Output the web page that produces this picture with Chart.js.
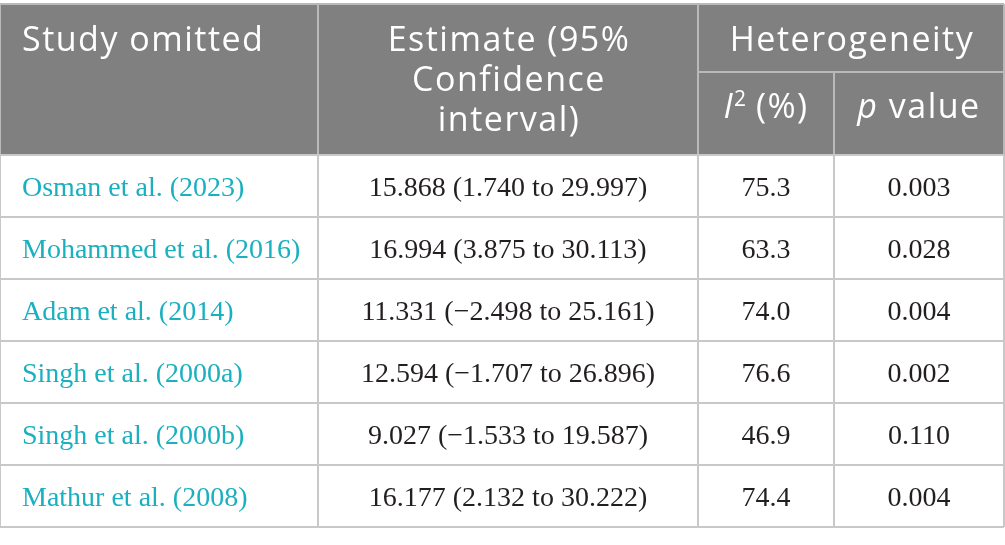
<!DOCTYPE html>
<html>
<head>
<meta charset="utf-8">
<script src="https://cdn.jsdelivr.net/npm/chart.js@4.4.1/dist/chart.umd.min.js"></script>
<style>
    html, body { margin: 0; padding: 0; background: #ffffff; }
    #wrap { width: 1005px; height: 545px; position: relative; }
</style>
</head>
<body>
<div id="wrap"><canvas id="sensChart"></canvas></div>
<script>
// Leave-one-out sensitivity analysis
const studies = ['Osman et al. (2023)', 'Mohammed et al. (2016)', 'Adam et al. (2014)',
    'Singh et al. (2000a)', 'Singh et al. (2000b)', 'Mathur et al. (2008)'];
const estimates = [15.868, 16.994, 11.331, 12.594, 9.027, 16.177];
const ciLower = [1.740, 3.875, -2.498, -1.707, -1.533, 2.132];
const ciUpper = [29.997, 30.113, 25.161, 26.896, 19.587, 30.222];
const i2Values = [75.3, 63.3, 74.0, 76.6, 46.9, 74.4];
const pValues = [0.003, 0.028, 0.004, 0.002, 0.110, 0.004];
const headerStudy = 'Study omitted';
const headerEstimate = ['Estimate (95%', 'Confidence', 'interval)'];
const headerHetero = 'Heterogeneity';

// layout (x scale runs in pixel-like units across the table)
const colEdges = [0, 318, 698, 834, 1004];
const headerTop = 4;
const headerSplit = 72;
const headFont = '34px "Open Sans"';
const supFont = '21px "Open Sans"';
const bodyFont = '28px "Liberation Serif"';

function fmt(v, d) {
    const s = Math.abs(v).toFixed(d);
    return v < 0 ? '\u2212' + s : s;
}

const tablePlugin = {
    id: 'tablePlugin',
    afterDraw(chart) {
        const ctx = chart.ctx;
        const x = chart.scales.x;
        const y = chart.scales.y;
        const area = chart.chartArea;
        const cx = i => (x.getPixelForValue(colEdges[i]) + x.getPixelForValue(colEdges[i + 1])) / 2;
        const left = x.getPixelForValue(colEdges[0]);
        const right = x.getPixelForValue(colEdges[4]);
        ctx.save();

        // header background
        ctx.fillStyle = '#808080';
        ctx.fillRect(left, headerTop, right - left, area.top - headerTop);

        // grid lines
        ctx.lineWidth = 2;
        ctx.strokeStyle = '#b9b9b9';
        ctx.beginPath();
        ctx.moveTo(left, headerTop); ctx.lineTo(right, headerTop);
        ctx.moveTo(x.getPixelForValue(colEdges[2]), headerSplit); ctx.lineTo(right, headerSplit);
        [0, 1, 2, 4].forEach(i => {
            const px = x.getPixelForValue(colEdges[i]);
            ctx.moveTo(px, headerTop); ctx.lineTo(px, area.top);
        });
        ctx.moveTo(x.getPixelForValue(colEdges[3]), headerSplit);
        ctx.lineTo(x.getPixelForValue(colEdges[3]), area.top);
        ctx.stroke();

        ctx.strokeStyle = '#c8c8c8';
        ctx.beginPath();
        for (let i = 0; i <= studies.length; i++) {
            const py = y.getPixelForValue(i - 0.5);
            ctx.moveTo(left, py); ctx.lineTo(right, py);
        }
        colEdges.forEach(v => {
            const px = x.getPixelForValue(v);
            ctx.moveTo(px, area.top); ctx.lineTo(px, area.bottom);
        });
        ctx.stroke();

        // header text (wide face, so a little tracking)
        ctx.letterSpacing = '1.5px';
        ctx.fillStyle = '#ffffff';
        ctx.font = headFont;
        ctx.textBaseline = 'alphabetic';
        ctx.textAlign = 'left';
        ctx.fillText(headerStudy, left + 22, 51);
        ctx.textAlign = 'center';
        headerEstimate.forEach((t, k) => ctx.fillText(t, cx(1) + 1, 51 + k * 40));
        ctx.fillText(headerHetero, (x.getPixelForValue(colEdges[2]) + right) / 2 + 1, 51);

        // I² (%)
        const italic = 'italic ' + headFont;
        ctx.textAlign = 'left';
        ctx.font = italic;
        const wI = ctx.measureText('I').width;
        ctx.font = supFont;
        const w2 = ctx.measureText('2').width;
        ctx.font = headFont;
        const wRest = ctx.measureText(' (%)').width;
        let sx = cx(2) - (wI + w2 + wRest) / 2 + 1;
        const hb = 118;
        ctx.font = italic; ctx.fillText('I', sx, hb); sx += wI;
        ctx.font = supFont; ctx.fillText('2', sx, hb - 12); sx += w2 - 2;
        ctx.font = headFont; ctx.fillText(' (%)', sx, hb);

        // p value
        ctx.font = italic;
        const wp = ctx.measureText('p').width;
        ctx.font = headFont;
        const wv = ctx.measureText(' value').width;
        sx = cx(3) - (wp + wv) / 2;
        ctx.font = italic; ctx.fillText('p', sx, hb);
        ctx.font = headFont; ctx.fillText(' value', sx + wp, hb);
        ctx.letterSpacing = '0px';

        // body cells
        ctx.font = bodyFont;
        studies.forEach((s, i) => {
            const py = y.getPixelForValue(i) + 10;
            ctx.textAlign = 'left';
            ctx.fillStyle = '#1bb0c0';
            ctx.fillText(s, left + 22, py);
            ctx.textAlign = 'center';
            ctx.fillStyle = '#231f20';
            ctx.fillText(fmt(estimates[i], 3) + ' (' + fmt(ciLower[i], 3) + ' to ' + fmt(ciUpper[i], 3) + ')', cx(1), py);
            ctx.fillText(fmt(i2Values[i], 1), cx(2), py);
            ctx.fillText(fmt(pValues[i], 3), cx(3), py);
        });
        ctx.restore();
    }
};

new Chart(document.getElementById('sensChart'), {
    type: 'bar',
    data: {
        labels: studies,
        datasets: []
    },
    options: {
        indexAxis: 'y',
        responsive: true,
        maintainAspectRatio: false,
        animation: false,
        layout: { padding: { left: 0, right: 1, top: 155, bottom: 18 } },
        plugins: { legend: { display: false }, tooltip: { enabled: false } },
        scales: {
            x: { type: 'linear', min: colEdges[0], max: colEdges[4], display: false },
            y: { type: 'category', offset: true, display: false }
        }
    },
    plugins: [tablePlugin]
});
</script>
</body>
</html>
